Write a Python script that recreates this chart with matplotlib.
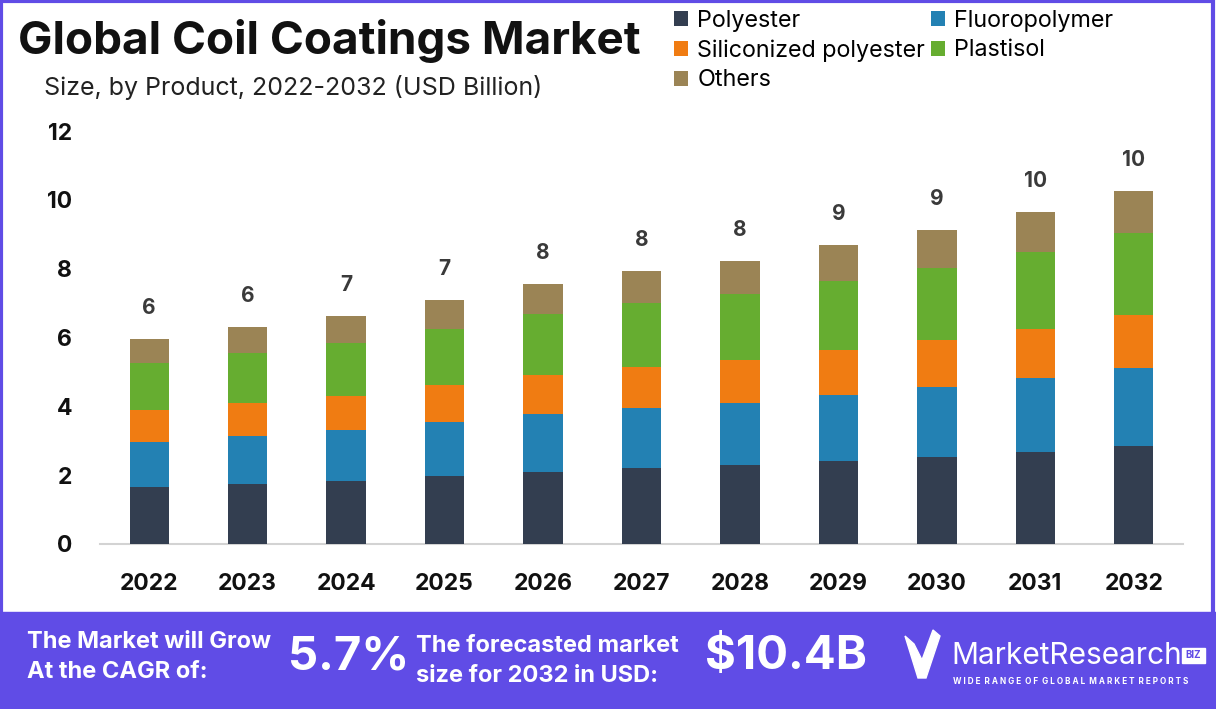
import matplotlib
matplotlib.use("Agg")
import matplotlib.pyplot as plt
import numpy as np
from matplotlib.patches import Rectangle, Polygon

years = ["2022", "2023", "2024", "2025", "2026", "2027", "2028", "2029", "2030", "2031", "2032"]
polyester = [1.66, 1.74, 1.84, 1.98, 2.09, 2.21, 2.30, 2.41, 2.53, 2.67, 2.85]
fluoropolymer = [1.31, 1.41, 1.47, 1.57, 1.70, 1.74, 1.80, 1.92, 2.03, 2.16, 2.27]
siliconized = [0.91, 0.95, 0.99, 1.06, 1.12, 1.20, 1.25, 1.31, 1.37, 1.42, 1.54]
plastisol = [1.39, 1.46, 1.55, 1.64, 1.76, 1.84, 1.91, 2.01, 2.09, 2.24, 2.38]
others = [0.69, 0.75, 0.78, 0.84, 0.89, 0.95, 0.97, 1.04, 1.11, 1.16, 1.22]

series_names = ["Polyester", "Fluoropolymer", "Siliconized polyester", "Plastisol", "Others"]
series_vals = [polyester, fluoropolymer, siliconized, plastisol, others]
colors = ["#333E50", "#2381B3", "#F07C12", "#66AD30", "#9B8455"]

purple = "#604CE6"
font = "Inter"

fig = plt.figure(figsize=(12.16, 7.09), dpi=100)
ax = fig.add_axes([100/1216, 1-544/709, 1083/1216, 413/709])

x = np.arange(len(years))
bottom = np.zeros(len(years))
bars = {}
for name, vals, c in zip(series_names, series_vals, colors):
    bars[name] = ax.bar(x, vals, width=0.4, bottom=bottom, color=c, label=name, zorder=3)
    bottom = bottom + np.array(vals)

totals = bottom
for xi, t in zip(x, totals):
    ax.annotate("%d" % round(t), (xi, t), xytext=(0, 15), textcoords="offset points",
                ha="center", va="bottom", fontsize=15, fontweight="bold",
                color="#3a3a3a", family=font)

ax.set_xlim(-0.5, 10.5)
ax.set_ylim(0, 12)
ax.set_yticks(range(0, 13, 2))
ax.set_xticks(x)
ax.set_xticklabels(years)
for s in ["top", "right", "left"]:
    ax.spines[s].set_visible(False)
ax.spines["bottom"].set_color("#D3D3D3")
ax.spines["bottom"].set_linewidth(1.5)
ax.tick_params(axis="both", length=0)
ax.tick_params(axis="y", pad=20)
ax.tick_params(axis="x", pad=21)
for lab in ax.get_yticklabels() + ax.get_xticklabels():
    lab.set_fontweight("bold")
    lab.set_fontsize(16.5)
    lab.set_family(font)
    lab.set_color("#111111")

fig.text(18/1216, 1-41/709, "Global Coil Coatings Market", fontsize=33, fontweight="bold",
         family=font, color="#111111", va="center", ha="left")
fig.text(44/1216, 1-87/709, "Size, by Product, 2022-2032 (USD Billion)", fontsize=18,
         family=font, color="#222222", va="center", ha="left")

order = ["Polyester", "Siliconized polyester", "Others", "Fluoropolymer", "Plastisol"]
leg = fig.legend([bars[n] for n in order], order, loc="upper left",
                 bbox_to_anchor=(674/1216, 1-10/709), ncol=2, frameon=False,
                 handlelength=0.6, handleheight=0.6, handletextpad=0.4,
                 labelspacing=0.32, columnspacing=0.25, borderpad=0, borderaxespad=0,
                 prop={"family": font, "size": 16.8})

# footer band
fig.patches.append(Rectangle((0, 0), 1, 97/709, transform=fig.transFigure,
                             color=purple, zorder=0))
fig.patches.append(Rectangle((0.0012, 0.001), 0.996, 0.997, transform=fig.transFigure,
                             fill=False, edgecolor=purple, linewidth=3, zorder=5))

wt = dict(color="white", fontweight="bold", family=font, va="center", ha="left")
fig.text(27/1216, 1-642/709, "The Market will Grow", fontsize=17, **wt)
fig.text(27/1216, 1-672/709, "At the CAGR of:", fontsize=17, **wt)
fig.text(288/1216, 1-657/709, "5.7%", fontsize=34, **wt)
fig.text(416/1216, 1-646/709, "The forecasted market", fontsize=17, **wt)
fig.text(416/1216, 1-676/709, "size for 2032 in USD:", fontsize=17, **wt)
fig.text(705/1216, 1-657/709, "$10.4B", fontsize=34, **wt)

# logo
ch = [(905, 636), (914, 644), (922, 660), (933, 630), (940, 636), (926, 678), (918, 678)]
fig.patches.append(Polygon([(px/1216, 1-py/709) for px, py in ch], closed=True,
                           transform=fig.transFigure, color="white", zorder=6))
fig.text(951/1216, 1-656/709, "MarketResearch", fontsize=21.5, color="white",
         family=font, va="center", ha="left")
fig.patches.append(Rectangle((1182/1216, 1-663/709), 23/1216, 15/709,
                             transform=fig.transFigure, color="white", zorder=6))
fig.text(1193.5/1216, 1-655.5/709, "BIZ", fontsize=7, color=purple, fontweight="bold",
         family=font, va="center", ha="center", zorder=7)
fig.text(953/1216, 1-681/709, "W I D E  R A N G E  O F  G L O B A L  M A R K E T  R E P O R T S",
         fontsize=5.9, color="white", fontweight="bold", family=font, va="center", ha="left")

fig.savefig("out.png", dpi=100)
